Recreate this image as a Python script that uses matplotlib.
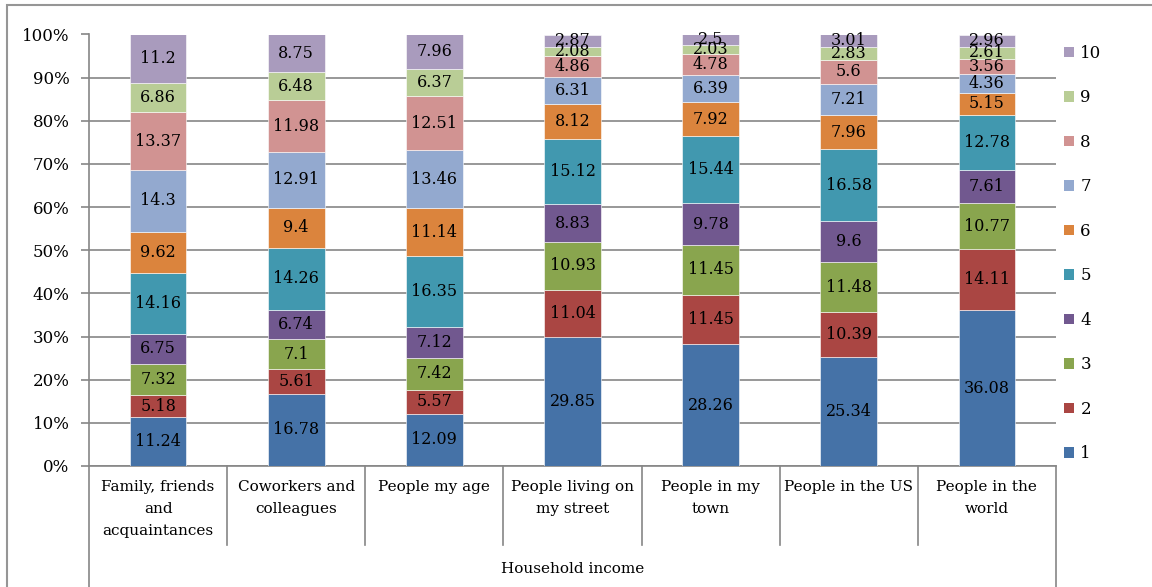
import numpy as np
import matplotlib
matplotlib.use("Agg")
import matplotlib.pyplot as plt
from matplotlib.patches import Patch, Rectangle
from matplotlib.lines import Line2D

plt.rcParams["font.family"] = ["DejaVu Serif"]

# Data
categories = ["Family, friends\nand\nacquaintances", "Coworkers and\ncolleagues",
              "People my age", "People living on\nmy street", "People in my\ntown",
              "People in the US", "People in the\nworld"]
series_names = ["1", "2", "3", "4", "5", "6", "7", "8", "9", "10"]
s1 = [11.24, 16.78, 12.09, 29.85, 28.26, 25.34, 36.08]
s2 = [5.18, 5.61, 5.57, 11.04, 11.45, 10.39, 14.11]
s3 = [7.32, 7.1, 7.42, 10.93, 11.45, 11.48, 10.77]
s4 = [6.75, 6.74, 7.12, 8.83, 9.78, 9.6, 7.61]
s5 = [14.16, 14.26, 16.35, 15.12, 15.44, 16.58, 12.78]
s6 = [9.62, 9.4, 11.14, 8.12, 7.92, 7.96, 5.15]
s7 = [14.3, 12.91, 13.46, 6.31, 6.39, 7.21, 4.36]
s8 = [13.37, 11.98, 12.51, 4.86, 4.78, 5.6, 3.56]
s9 = [6.86, 6.48, 6.37, 2.08, 2.03, 2.83, 2.61]
s10 = [11.2, 8.75, 7.96, 2.87, 2.5, 3.01, 2.96]
axis_title = "Household income"

colors = ["#4572A7", "#AA4643", "#89A54E", "#71588F", "#4198AF",
          "#DB843D", "#93A9CF", "#D19392", "#B9CD96", "#A99BBD"]

data = np.array([s1, s2, s3, s4, s5, s6, s7, s8, s9, s10])
totals = data.sum(axis=0)
pct = data / totals * 100

fig = plt.figure(figsize=(11.52, 5.87), dpi=100)
ax = fig.add_axes([89 / 1152, 121 / 587, 967 / 1152, 431.5 / 587])

x = np.arange(len(categories))
bottom = np.zeros(len(categories))
for i in range(len(series_names)):
    ax.bar(x, pct[i], bottom=bottom, width=0.41, color=colors[i],
           edgecolor="white", linewidth=0.4, zorder=3, label=series_names[i])
    for j in range(len(categories)):
        ax.text(x[j], bottom[j] + pct[i][j] / 2, f"{data[i][j]:g}",
                ha="center", va="center", fontsize=11.5, color="black", zorder=4)
    bottom += pct[i]

ax.set_xlim(-0.5, len(categories) - 0.5)
ax.set_ylim(0, 100)
ax.set_yticks(np.arange(0, 101, 10))
ax.set_yticklabels([f"{v}%" for v in range(0, 101, 10)], fontsize=12)
ax.yaxis.grid(True, color="#868686", linewidth=1.2, zorder=0)
ax.tick_params(axis="y", length=6, color="#868686", width=1.2, pad=8)
ax.set_xticks([])
for side in ["top", "right"]:
    ax.spines[side].set_visible(False)
ax.spines["left"].set_color("#868686")
ax.spines["left"].set_linewidth(1.2)
ax.spines["bottom"].set_color("#868686")
ax.spines["bottom"].set_linewidth(1.2)

# category labels and separators below the axis
trans = ax.get_xaxis_transform()
for j, lab in enumerate(categories):
    ax.text(x[j], -0.033, lab, transform=trans, ha="center", va="top",
            fontsize=11, linespacing=1.72)
for k in range(len(categories) + 1):
    xb = k - 0.5
    y_end = -0.5 if k in (0, len(categories)) else -0.183
    ax.add_line(Line2D([xb, xb], [0, y_end], transform=trans, color="#868686",
                       linewidth=1.2, clip_on=False))
ax.text((len(categories) - 1) / 2, -0.238, axis_title, transform=trans,
        ha="center", va="center", fontsize=11)

# legend
handles = [Patch(facecolor=colors[i], label=series_names[i]) for i in range(10)][::-1]
fig.legend(handles=handles, loc="upper left", bbox_to_anchor=(1057 / 1152, 1 - 38 / 587),
           frameon=False, fontsize=12, handlelength=0.6, handleheight=0.6,
           handletextpad=0.4, labelspacing=1.65, borderaxespad=0)

# chart area frame
fig.add_artist(Rectangle((7 / 1152, -0.1), 1.5, 1 - 5 / 587 + 0.1, transform=fig.transFigure,
                         fill=False, edgecolor="#969696", linewidth=1.5))

fig.savefig("out.png", dpi=100)
